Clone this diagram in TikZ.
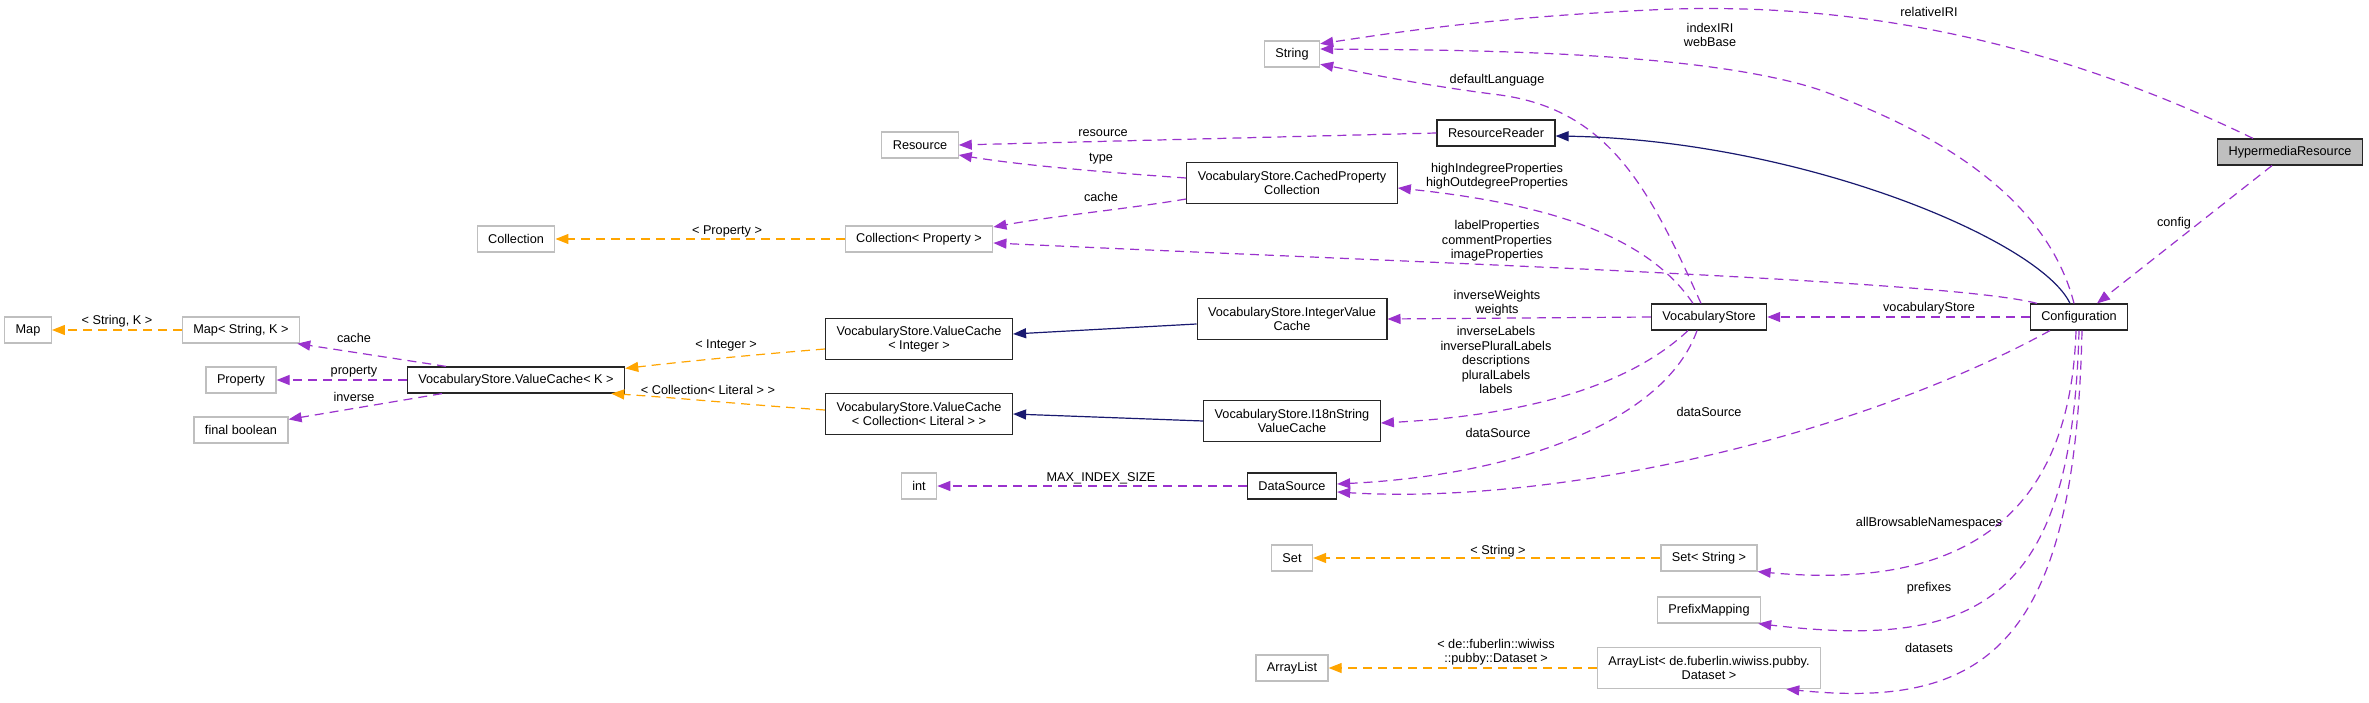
\documentclass[tikz,border=0pt]{standalone}
\usepackage{fontspec}
\setmainfont{Liberation Sans}
\usetikzlibrary{arrows.meta}
\definecolor{edgepurple}{HTML}{9A32CD}
\definecolor{tmplorange}{HTML}{FFA500}
\definecolor{inhnavy}{HTML}{191970}
\definecolor{extgray}{HTML}{BFBFBF}
\tikzset{
  cls/.style={draw=black!85, line width=1.2pt, fill=white, inner xsep=11pt, inner ysep=0pt, minimum height=26pt, align=center},
  cls2/.style={cls, minimum height=41pt},
  ext/.style={cls, draw=extgray},
  ext2/.style={cls2, draw=extgray},
  cur/.style={cls, fill=extgray},
  elabel/.style={inner sep=0pt, align=center},
  member/.style={edgepurple, line width=1.2pt, dash pattern=on 9pt off 6pt, -{Triangle[length=13pt,width=10pt]}},
  tmpl/.style={member, tmplorange},
  inherit/.style={inhnavy, line width=1.2pt, -{Triangle[length=13pt,width=10pt]}},
}
\begin{document}
\begin{tikzpicture}[x=1pt,y=-1pt,font=\fontsize{12.7}{14.5}\selectfont]
    \fill[white] (0,0) rectangle (2369,703);
    \useasboundingbox (0,0) rectangle (2369,703);

    % classes
    \node[ext]  (map)      at (28,330)   {Map};
    \node[ext]  (mapsk)    at (241,330)  {Map< String, K >};
    \node[ext]  (prop)     at (241,380)  {Property};
    \node[ext]  (fbool)    at (241,430)  {final boolean};
    \node[cls]  (vck)      at (516,380)  {VocabularyStore.ValueCache< K >};
    \node[ext]  (coll)     at (516,239)  {Collection};
    \node[ext]  (collprop) at (919,239)  {Collection< Property >};
    \node[ext]  (res)      at (920,145)  {Resource};
    \node[cls2] (vci)      at (919,339)  {VocabularyStore.ValueCache\\< Integer >};
    \node[cls2] (vccl)     at (919,414)  {VocabularyStore.ValueCache\\< Collection< Literal > >};
    \node[ext]  (int)      at (919,486)  {int};
    \node[ext]  (str)      at (1292,54)  {String};
    \node[cls2] (cpc)      at (1292,183) {VocabularyStore.CachedProperty\\Collection};
    \node[cls2] (ivc)      at (1292,319) {VocabularyStore.IntegerValue\\Cache};
    \node[cls2] (i18n)     at (1292,421) {VocabularyStore.I18nString\\ValueCache};
    \node[cls]  (ds)       at (1292,486) {DataSource};
    \node[ext]  (set)      at (1292,558) {Set};
    \node[ext]  (alist)    at (1292,668) {ArrayList};
    \node[cls]  (rr)       at (1496,133) {ResourceReader};
    \node[cls]  (vs)       at (1709,317) {VocabularyStore};
    \node[ext]  (setstr)   at (1709,558) {Set< String >};
    \node[ext]  (pm)       at (1709,610) {PrefixMapping};
    \node[ext2] (alds)     at (1709,668) {ArrayList< de.fuberlin.wiwiss.pubby.\\Dataset >};
    \node[cls]  (cfg)      at (2079,317) {Configuration};
    \node[cur]  (hr)       at (2290,152) {HypermediaResource};

    % edges
    \draw[member] ([xshift=-37pt]hr.north) .. controls (2050,40) and (1850,0) .. (1650,10)
        .. controls (1480,18) and (1380,35) .. (str.20);
    \draw[member] ([xshift=-5pt]cfg.north) .. controls (2050,210) and (1960,140) .. (1820,90)
        .. controls (1700,50) and (1450,50) .. (str.10);
    \draw[member] ([xshift=-8pt]vs.north) .. controls (1650,190) and (1610,110) .. (1500,95)
        .. controls (1420,85) and (1360,72) .. (str.-20);
    \draw[member] (rr.west) -- (res.east);
    \draw[member] ([yshift=5pt]cpc.west) .. controls (1100,172) and (1020,165) .. ([yshift=-10pt]res.east);
    \draw[member] ([yshift=-16pt]cpc.west) .. controls (1120,210) and (1060,215) .. ([yshift=12pt]collprop.east);
    \draw[tmpl] (collprop.west) -- (coll.east);
    \draw[inherit] ([xshift=-9pt]cfg.north) .. controls (2040,240) and (1800,140) .. ([yshift=-3pt]rr.east);
    \draw[member] ([xshift=-16pt]vs.north) .. controls (1650,240) and (1560,205) .. ([yshift=-5pt]cpc.east);
    \draw[member] ([xshift=-42pt]cfg.north) .. controls (1950,280) and (1400,262) .. ([yshift=-4pt]collprop.east);
    \draw[member] ([xshift=-18pt]hr.south) -- ([xshift=18pt]cfg.north);
    \draw[member] (cfg.west) -- (vs.east);
    \draw[member] (vs.west) -- (ivc.east);
    \draw[inherit] ([yshift=-5pt]ivc.west) -- ([yshift=5pt]vci.east);
    \draw[inherit] (i18n.west) -- (vccl.east);
    \draw[member] ([xshift=-21pt]vs.south) .. controls (1630,385) and (1530,415) .. ([yshift=-2pt]i18n.east);
    \draw[member] ([xshift=-12pt]vs.south) .. controls (1665,420) and (1520,475) .. ([yshift=2pt]ds.east);
    \draw[member] ([xshift=-29pt]cfg.south) .. controls (1850,440) and (1550,505) .. ([yshift=-6pt]ds.east);
    \draw[member] (ds.west) -- (int.east);
    \draw[tmpl] ([yshift=-10pt]vci.west) .. controls (750,355) and (680,362) .. ([yshift=-2pt]vck.north east);
    \draw[tmpl] ([yshift=4pt]vccl.west) .. controls (750,405) and (680,398) .. ([xshift=-14pt]vck.south east);
    \draw[member] ([xshift=-70pt]vck.north) -- ([xshift=-3pt]mapsk.south east);
    \draw[member] (vck.west) -- (prop.east);
    \draw[member] ([xshift=-74pt]vck.south) -- ([yshift=-3pt]fbool.north east);
    \draw[tmpl] (mapsk.west) -- (map.east);
    \draw[member] ([xshift=-3pt]cfg.south) .. controls (2070,520) and (1960,590) .. (setstr.south east);
    \draw[tmpl] (setstr.west) -- (set.east);
    \draw[member] (cfg.south) .. controls (2072,600) and (1980,650) .. ([xshift=-3pt]pm.south east);
    \draw[member] ([xshift=3pt]cfg.south) .. controls (2075,640) and (1990,710) .. ([xshift=-35pt]alds.south east);
    \draw[tmpl] (alds.west) -- (alist.east);

    % edge labels
    \node[elabel] (l-relIRI)   at (1929,12)  {relativeIRI};
    \node[elabel] (l-index)    at (1710,35)  {indexIRI\\webBase};
    \node[elabel] (l-deflang)  at (1497,80)  {defaultLanguage};
    \node[elabel] (l-resource) at (1103,133) {resource};
    \node[elabel] (l-type)     at (1101,159) {type};
    \node[elabel] (l-cache1)   at (1101,197) {cache};
    \node[elabel] (l-prop)     at (727,231)  {< Property >};
    \node[elabel] (l-high)     at (1497,176) {highIndegreeProperties\\highOutdegreeProperties};
    \node[elabel] (l-labels)   at (1497,241) {labelProperties\\commentProperties\\imageProperties};
    \node[elabel] (l-config)   at (2174,223) {config};
    \node[elabel] (l-vstore)   at (1929,308) {vocabularyStore};
    \node[elabel] (l-weights)  at (1497,303) {inverseWeights\\weights};
    \node[elabel] (l-i18n)     at (1496,360) {inverseLabels\\inversePluralLabels\\descriptions\\pluralLabels\\labels};
    \node[elabel] (l-ds1)      at (1498,433) {dataSource};
    \node[elabel] (l-ds2)      at (1709,412) {dataSource};
    \node[elabel] (l-max)      at (1101,478) {MAX\_INDEX\_SIZE};
    \node[elabel] (l-integer)  at (726,345)  {< Integer >};
    \node[elabel] (l-literal)  at (708,390)  {< Collection< Literal > >};
    \node[elabel] (l-cache2)   at (354,338)  {cache};
    \node[elabel] (l-property) at (354,372)  {property};
    \node[elabel] (l-inverse)  at (354,397)  {inverse};
    \node[elabel] (l-strk)     at (117,321)  {< String, K >};
    \node[elabel] (l-string)   at (1498,551) {< String >};
    \node[elabel] (l-browse)   at (1929,523) {allBrowsableNamespaces};
    \node[elabel] (l-prefixes) at (1929,588) {prefixes};
    \node[elabel] (l-datasets) at (1929,648) {datasets};
    \node[elabel] (l-dataset)  at (1496,652) {< de::fuberlin::wiwiss\\::pubby::Dataset >};
\end{tikzpicture}
\end{document}
